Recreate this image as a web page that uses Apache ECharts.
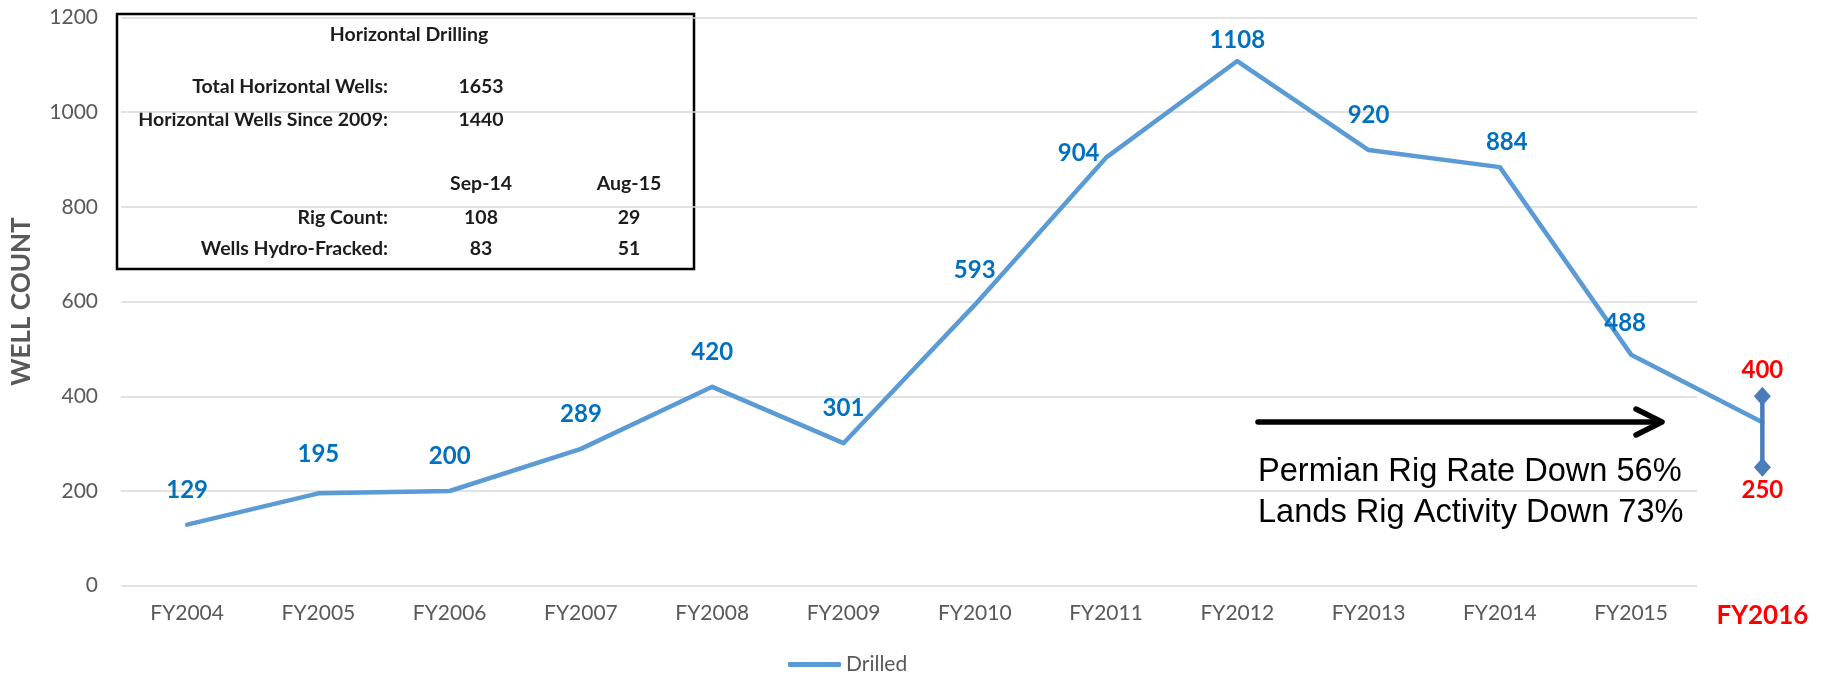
<!DOCTYPE html>
<html>
<head>
<meta charset="utf-8">
<title>Horizontal Wells Drilled</title>
<script src="https://cdn.jsdelivr.net/npm/echarts@6/dist/echarts.min.js"></script>
<style>
  html, body { margin: 0; padding: 0; background: #ffffff; }
  #chart { width: 1839px; height: 676px; }
</style>
</head>
<body>
<div id="chart"></div>
<script>
// Fiscal years on the category axis
const categories = ['FY2004', 'FY2005', 'FY2006', 'FY2007', 'FY2008', 'FY2009', 'FY2010',
                    'FY2011', 'FY2012', 'FY2013', 'FY2014', 'FY2015', 'FY2016'];
// Wells drilled per fiscal year (FY2016 is the projected point)
const drilled = [129, 195, 200, 289, 420, 301, 593, 904, 1108, 920, 884, 488, 345];
// Projected FY2016 range
const fy2016Low = 250;
const fy2016High = 400;
// Value axis scale
const yMin = 0;
const yMax = 1200;
const yStep = 200;

// Horizontal drilling summary table
const tableTitle = 'Horizontal Drilling';
const totalLabels = ['Total Horizontal Wells:', 'Horizontal Wells Since 2009:'];
const totalValues = [1653, 1440];
const rigPeriods = ['Sep-14', 'Aug-15'];
const rigLabels = ['Rig Count:', 'Wells Hydro-Fracked:'];
const rigValues = [[108, 29], [83, 51]];

// Activity notes
const notes = ['Permian Rig Rate Down 56%', 'Lands Rig Activity Down 73%'];

// ---- layout / styling ----
const BLUE = '#5B9BD5';
const LABEL_BLUE = '#0070C0';
const GRAY = '#595959';
const RED = '#FF0000';
const FONT = 'Lato';

// per-point label placement adjustments
const labelTweaks = {
  1: { offset: [0, -5] },
  7: { position: 'left', distance: 6, offset: [0, -4] },
  8: { offset: [0, 14] },
  10: { offset: [7, 10] },
  11: { offset: [-6, 3] },
  12: { show: false }
};

const drilledData = drilled.map((v, i) => {
  const item = { value: v };
  if (labelTweaks[i]) item.label = labelTweaks[i];
  return item;
});

// table graphic built from the table arrays
const tx = { labelRight: 388, col: [481, 629] };
const ty = { title: 35, totals: [87, 120], head: 184, rig: [218, 249] };
const tStyle = (text, x, y, align) => ({
  type: 'text', x: x, y: y,
  style: { text: String(text), fill: '#1c1c1c', font: 'bold 19.5px ' + FONT,
           textAlign: align, textVerticalAlign: 'middle' }
});
const tableEls = [
  { type: 'rect', shape: { x: 117, y: 14, width: 577, height: 255 },
    style: { fill: '#ffffff', stroke: '#000000', lineWidth: 2.5 } },
  tStyle(tableTitle, 409, ty.title, 'center')
];
totalLabels.forEach((t, i) => {
  tableEls.push(tStyle(t, tx.labelRight, ty.totals[i], 'right'));
  tableEls.push(tStyle(totalValues[i], tx.col[0], ty.totals[i], 'center'));
});
rigPeriods.forEach((p, j) => tableEls.push(tStyle(p, tx.col[j], ty.head, 'center')));
rigLabels.forEach((t, i) => {
  tableEls.push(tStyle(t, tx.labelRight, ty.rig[i], 'right'));
  rigValues[i].forEach((v, j) => tableEls.push(tStyle(v, tx.col[j], ty.rig[i], 'center')));
});

// arrow and notes
const arrowEls = [
  { type: 'polyline', shape: { points: [[1258, 422], [1659, 422]] },
    style: { stroke: '#000000', lineWidth: 5.5, lineCap: 'round' } },
  { type: 'polyline', shape: { points: [[1636, 409], [1662, 422], [1636, 435]] },
    style: { stroke: '#000000', lineWidth: 5.5, lineCap: 'round', lineJoin: 'round', fill: null } }
];
notes.forEach((n, i) => arrowEls.push({
  type: 'text', x: 1258, y: 472 + i * 41,
  style: { text: n, fill: '#000000', font: '32.6px "Liberation Sans", Arial, sans-serif',
           textAlign: 'left', textVerticalAlign: 'middle' }
}));

const chart = echarts.init(document.getElementById('chart'));
chart.setOption({
  backgroundColor: '#ffffff',
  animation: false,
  textStyle: { fontFamily: FONT },
  grid: [
    // gridline area (ends before the projection column)
    { left: 121, right: 142, top: 17.5, bottom: 90.3 },
    // full area including FY2016
    { left: 121.5, right: 11, top: 17.5, bottom: 90.3 }
  ],
  xAxis: [
    { gridIndex: 0, type: 'category', data: categories.slice(0, 12), show: false },
    {
      gridIndex: 1, type: 'category', data: categories, boundaryGap: true,
      axisLine: { show: false }, axisTick: { show: false },
      axisLabel: {
        color: GRAY, fontSize: 21, fontFamily: FONT, margin: 17, interval: 0,
        formatter: (v, i) => i === categories.length - 1 ? '{hl|' + v + '}' : v,
        rich: { hl: { color: RED, fontWeight: 'bold', fontSize: 26, fontFamily: FONT } }
      }
    }
  ],
  yAxis: [
    {
      gridIndex: 0, type: 'value', min: yMin, max: yMax, interval: yStep,
      name: 'WELL COUNT', nameLocation: 'middle', nameRotate: 90, nameGap: 86,
      nameTextStyle: { color: GRAY, fontSize: 26, fontWeight: 'bold', fontFamily: FONT },
      axisLine: { show: false }, axisTick: { show: false },
      axisLabel: { color: GRAY, fontSize: 21, fontFamily: FONT, margin: 23,
                   formatter: (v) => String(v) },
      splitLine: { lineStyle: { color: '#D9D9D9', width: 1.5 } }
    },
    { gridIndex: 1, type: 'value', min: yMin, max: yMax, interval: yStep, show: false }
  ],
  legend: {
    data: [{ name: 'Drilled', icon: 'roundRect' }],
    left: 783, top: 649, itemWidth: 53, itemHeight: 5,
    textStyle: { color: GRAY, fontSize: 21, fontFamily: FONT }
  },
  graphic: tableEls.concat(arrowEls),
  series: [
    {
      name: 'Drilled', type: 'line', xAxisIndex: 1, yAxisIndex: 1,
      data: drilledData,
      symbol: 'circle', symbolSize: 1,
      itemStyle: { color: BLUE },
      lineStyle: { color: BLUE, width: 4.5, cap: 'round', join: 'round' },
      label: {
        show: true, position: 'top', distance: 22,
        color: LABEL_BLUE, fontSize: 24, fontWeight: 'bold', fontFamily: FONT
      },
      z: 3
    },
    {
      name: 'FY2016 range', type: 'line', xAxisIndex: 1, yAxisIndex: 1,
      data: [
        { value: [categories[12], fy2016Low], label: { position: 'bottom', distance: 1 } },
        { value: [categories[12], fy2016High], label: { position: 'top', distance: 5 } }
      ],
      symbol: 'diamond', symbolSize: [17, 19],
      itemStyle: { color: '#4A7EBB' },
      lineStyle: { color: '#4A7EBB', width: 4.5 },
      label: {
        show: true, formatter: (p) => p.value[1],
        color: RED, fontSize: 24, fontWeight: 'bold', fontFamily: FONT
      },
      z: 4
    }
  ]
});
</script>
</body>
</html>
